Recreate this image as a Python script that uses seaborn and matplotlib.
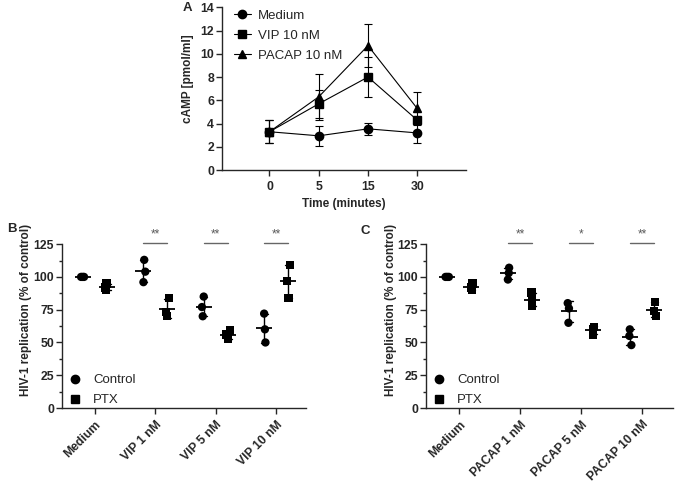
import numpy as np
import pandas as pd
import matplotlib.pyplot as plt
import seaborn as sns
from matplotlib.lines import Line2D
from matplotlib.ticker import MultipleLocator

# Panel A: cAMP over time (mean and SD)
times = ["0", "5", "15", "30"]
medium_mean = [3.3, 2.95, 3.55, 3.2]
medium_sd = [1.0, 0.85, 0.5, 0.85]
vip_mean = [3.3, 5.7, 8.0, 4.3]
vip_sd = [1.0, 1.2, 1.7, 0.3]
pacap_mean = [3.3, 6.3, 10.7, 5.3]
pacap_sd = [1.0, 2.0, 1.85, 1.45]

# Panels B and C: HIV-1 replication, three donors per condition
vip_cats = ["Medium", "VIP 1 nM", "VIP 5 nM", "VIP 10 nM"]
vip_control = [[100, 100, 100], [113, 104, 96], [85, 77, 70], [72, 60, 50]]
vip_ptx = [[95, 92, 90], [84, 73, 70], [59, 56, 53], [109, 97, 84]]
vip_stars = ["", "**", "**", "**"]

pacap_cats = ["Medium", "PACAP 1 nM", "PACAP 5 nM", "PACAP 10 nM"]
pacap_control = [[100, 100, 100], [107, 103, 98], [80, 76, 65], [60, 55, 48]]
pacap_ptx = [[95, 92, 90], [88, 82, 78], [62, 60, 56], [81, 74, 70]]
pacap_stars = ["", "**", "*", "**"]

groups = ["Control", "PTX"]

sns.set_style("ticks")
plt.rcParams['font.family'] = ['Liberation Sans', 'DejaVu Sans']
plt.rcParams['font.size'] = 9
plt.rcParams['axes.linewidth'] = 1.0
plt.rcParams['xtick.major.width'] = 1.0
plt.rcParams['ytick.major.width'] = 1.0
plt.rcParams['xtick.major.size'] = 4
plt.rcParams['ytick.major.size'] = 4
plt.rcParams['ytick.minor.size'] = 2.5
plt.rcParams['ytick.minor.width'] = 1.0
plt.rcParams['ytick.major.pad'] = 1.5

np.random.seed(7)

TICK_FS = 8.8
LABEL_FS = 8.5


def long_table(cats, control, ptx):
    rows = []
    for cat, c_vals, p_vals in zip(cats, control, ptx):
        for v in c_vals:
            rows.append((cat, "Control", v))
        for v in p_vals:
            rows.append((cat, "PTX", v))
    return pd.DataFrame(rows, columns=["treatment", "group", "value"])


def style_ticks(ax):
    for lab in ax.get_xticklabels() + ax.get_yticklabels():
        lab.set_fontweight("bold")
        lab.set_fontsize(TICK_FS)


def plot_replication(ax, cats, control, ptx, stars, label_x):
    df = long_table(cats, control, ptx)
    pal = {"Control": "black", "PTX": "black"}
    for grp, mk in zip(groups, ["o", "s"]):
        sns.stripplot(data=df[df.group == grp], x="treatment", y="value", hue="group",
                      order=cats, hue_order=groups, dodge=True, jitter=0.07,
                      marker=mk, size=6, palette=pal, linewidth=0,
                      legend=False, ax=ax, zorder=2)
    sns.pointplot(data=df, x="treatment", y="value", hue="group", order=cats,
                  hue_order=groups, dodge=0.4, errorbar="sd", markers="_",
                  markersize=11, markeredgewidth=1.3, linestyle="none",
                  capsize=0.12, err_kws={"linewidth": 1.0}, palette=pal,
                  legend=False, ax=ax, zorder=3)
    for i, s in enumerate(stars):
        if s:
            ax.plot([i - 0.2, i + 0.2], [125.5, 125.5], color="0.4", lw=1, clip_on=False)
            ax.text(i, 128, s, ha="center", va="bottom", fontsize=8.5, color="0.35")
    ax.set_ylim(0, 125)
    ax.set_xlim(-0.55, 3.5)
    ax.yaxis.set_major_locator(MultipleLocator(25))
    ax.yaxis.set_minor_locator(MultipleLocator(12.5))
    ax.set_xlabel("")
    ax.set_ylabel("HIV-1 replication (% of control)", fontweight="bold", fontsize=LABEL_FS)
    ax.yaxis.set_label_coords(label_x, 0.6)
    ax.tick_params(axis="x", labelrotation=45)
    for lab in ax.get_xticklabels():
        lab.set_ha("right")
        lab.set_rotation_mode("anchor")
    style_ticks(ax)
    handles = [Line2D([], [], marker="o", color="black", ls="none", ms=6),
               Line2D([], [], marker="s", color="black", ls="none", ms=6)]
    ax.legend(handles, groups, loc="lower left", frameon=False, fontsize=9.5,
              bbox_to_anchor=(-0.022, -0.063), handlelength=1.0, handletextpad=0.88,
              labelspacing=0.6)
    sns.despine(ax=ax)


fig = plt.figure(figsize=(6.78, 4.82), dpi=100)

# Panel A
axA = fig.add_axes([0.327, 0.647, 0.361, 0.338])
markers_a = ["o", "s", "^"]
labels_a = ["Medium", "VIP 10 nM", "PACAP 10 nM"]
for mean, sd, mk in zip([medium_mean, vip_mean, pacap_mean],
                        [medium_sd, vip_sd, pacap_sd], markers_a):
    axA.errorbar(times, mean, yerr=sd, fmt="-" + mk, color="black", lw=0.8,
                 ms=6, capsize=3, elinewidth=0.8, capthick=0.8)
axA.set_xlim(-0.97, 4.0)
axA.set_ylim(0, 14)
axA.yaxis.set_major_locator(MultipleLocator(2))
axA.set_xlabel("Time (minutes)", fontweight="bold", fontsize=LABEL_FS)
axA.set_ylabel("cAMP [pmol/ml]", fontweight="bold", fontsize=LABEL_FS)
axA.yaxis.set_label_coords(-0.115, 0.56)
style_ticks(axA)
handles_a = [Line2D([], [], marker=mk, color="black", lw=0.8, ms=6) for mk in markers_a]
axA.legend(handles_a, labels_a, loc="upper left", frameon=False, fontsize=9.5,
           bbox_to_anchor=(0.0, 1.06), handlelength=1.3, labelspacing=0.6,
           handletextpad=0.55)
sns.despine(ax=axA)

# Panel B
axB = fig.add_axes([0.091, 0.1535, 0.361, 0.340])
plot_replication(axB, vip_cats, vip_control, vip_ptx, vip_stars, -0.122)

# Panel C
axC = fig.add_axes([0.628, 0.1535, 0.364, 0.340])
plot_replication(axC, pacap_cats, pacap_control, pacap_ptx, pacap_stars, -0.115)

fig.text(187 / 678, 1 - 8 / 482, "A", fontweight="bold", fontsize=9.5, ha="center", va="center")
fig.text(12 / 678, 1 - 229 / 482, "B", fontweight="bold", fontsize=9.5, ha="center", va="center")
fig.text(365 / 678, 1 - 231 / 482, "C", fontweight="bold", fontsize=9.5, ha="center", va="center")

fig.savefig("out.png", dpi=100)
